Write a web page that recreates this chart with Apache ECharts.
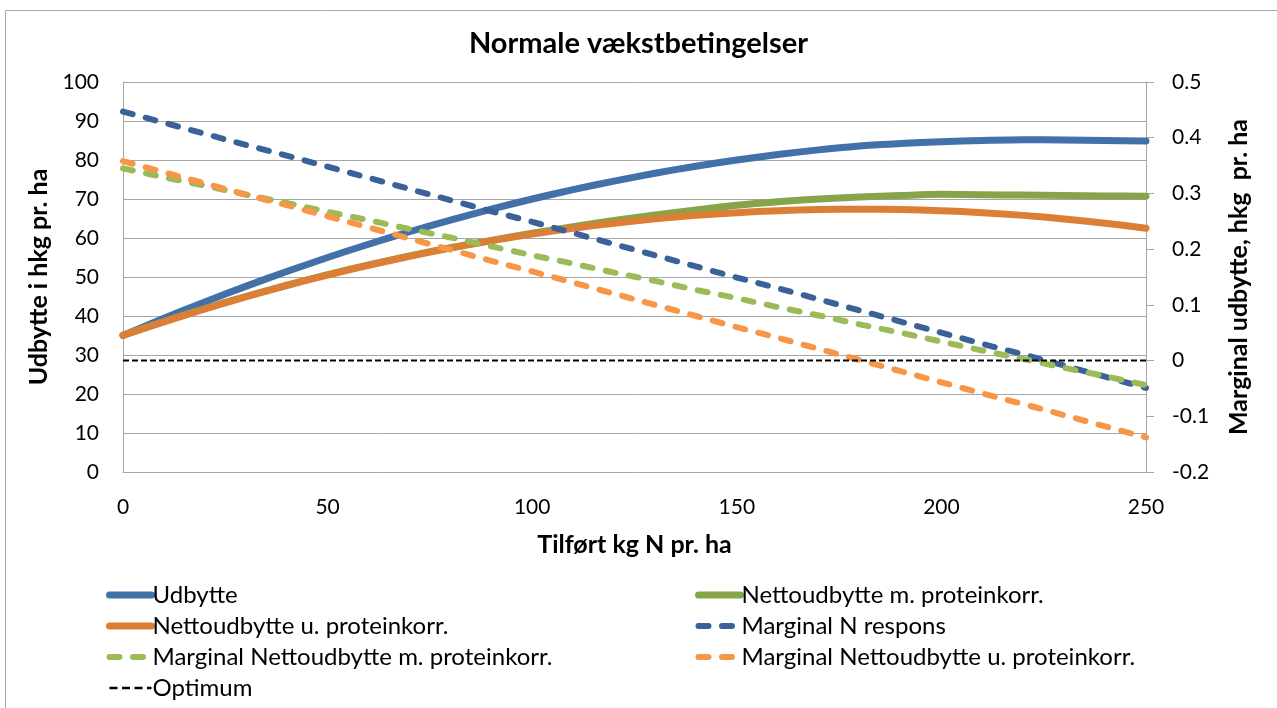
<!DOCTYPE html>
<html>
<head>
<meta charset="utf-8">
<script src="https://cdn.jsdelivr.net/npm/echarts@6/dist/echarts.min.js"></script>
<style>
html,body{margin:0;padding:0;background:#fff;}
#chart{width:1277px;height:708px;}
</style>
</head>
<body>
<div id="chart"></div>
<script>
const titleText = "Normale vækstbetingelser";
const xName = "Tilført kg N pr. ha";
const yLeftName = "Udbytte i hkg pr. ha";
const yRightName = "Marginal udbytte, hkg  pr. ha";

const nValues = [0,10,20,30,40,50,60,70,80,90,100,110,120,130,140,150,160,170,180,190,200,210,220,230,240,250];

const udbytte = [35,39.4,43.6,47.6,51.4,55,58.4,61.6,64.6,67.4,70,72.4,74.6,76.6,78.4,80,81.4,82.6,83.6,84.2,84.7,85.0,85.2,85.1,85.0,84.9];
const nettoM = [35.1,38.6,41.9,45.0,47.9,50.6,53.1,55.4,57.5,59.4,61.2,62.9,64.5,65.9,67.2,68.4,69.3,70.0,70.5,70.9,71.2,71.1,71.0,70.9,70.8,70.7];
const nettoU = [35,38.5,41.8,44.9,47.8,50.5,53,55.3,57.4,59.3,61,62.5,63.8,64.9,65.8,66.5,67,67.3,67.4,67.3,67,66.5,65.8,64.9,63.8,62.5];
const margN = [0.447,0.427,0.407,0.387,0.368,0.348,0.328,0.308,0.288,0.268,0.249,0.229,0.209,0.189,0.169,0.149,0.130,0.110,0.090,0.070,0.050,0.030,0.011,-0.009,-0.029,-0.049];
const margM = [0.345,0.329,0.314,0.298,0.283,0.267,0.252,0.236,0.221,0.205,0.189,0.174,0.158,0.143,0.127,0.112,0.096,0.081,0.065,0.050,0.034,0.018,0.003,-0.013,-0.028,-0.044];
const margU = [0.358,0.338,0.318,0.298,0.279,0.259,0.239,0.219,0.199,0.179,0.160,0.140,0.120,0.100,0.080,0.060,0.041,0.021,0.001,-0.019,-0.039,-0.059,-0.078,-0.098,-0.118,-0.138];
const optimumX = [0,250];
const optimumY = [0,0];

const seriesNames = ["Udbytte","Nettoudbytte m. proteinkorr.","Nettoudbytte u. proteinkorr.","Marginal N respons","Marginal Nettoudbytte m. proteinkorr.","Marginal Nettoudbytte u. proteinkorr.","Optimum"];

const leftTicks = {min:0,max:100,interval:10};
const rightTicks = {min:-0.2,max:0.5,interval:0.1};
const xTicks = {min:0,max:250,interval:50};

function zip(xs, ys){ return xs.map((x,i)=>[x, ys[i]]); }

const FONT = "Lato";
const SOLID_W = 7, DASH_W = 6, DASH = [10, 13.5];
const chart = echarts.init(document.getElementById('chart'), null, {renderer:'canvas'});

function solid(name, data, color){
  return {name, type:'line', yAxisIndex:0, data, symbol:'none', smooth:0.3,
    lineStyle:{color, width:SOLID_W, cap:'round', join:'round'}, itemStyle:{color}};
}
function dashed(name, data, color){
  return {name, type:'line', yAxisIndex:1, data, symbol:'none', smooth:false,
    lineStyle:{color, width:DASH_W, type:DASH, cap:'round'}, itemStyle:{color}};
}
function legItem(i, w, dash){
  const ls = {width:w};
  if (dash) ls.type = dash;
  return {name:seriesNames[i], itemStyle:{opacity:0}, lineStyle:ls};
}
const legendText = {fontFamily:FONT, fontSize:24, color:'#000', lineHeight:24, padding:[0,0,0,-4]};

chart.setOption({
  animation:false,
  backgroundColor:'#ffffff',
  textStyle:{fontFamily:FONT},
  title:{text:titleText, left:'center', top:24,
    textStyle:{fontFamily:FONT, fontSize:29, fontWeight:'bold', color:'#000'}},
  grid:{left:123, right:131, top:82, bottom:236, containLabel:false},
  graphic:[{type:'rect', shape:{x:5.5,y:10.5,width:1400,height:900}, style:{fill:'none', stroke:'#a6a6a6', lineWidth:1}, silent:true}],
  legend:[
    {left:106, top:583, padding:0, orient:'vertical', itemWidth:42, itemHeight:14, itemGap:7,
     data:[legItem(0,SOLID_W),legItem(2,SOLID_W),legItem(4,DASH_W),legItem(6,2.5,[8,4.5])],
     textStyle:legendText},
    {left:695, top:583, padding:0, orient:'vertical', itemWidth:42, itemHeight:14, itemGap:7,
     data:[legItem(1,SOLID_W),legItem(3,DASH_W),legItem(5,DASH_W)],
     textStyle:legendText}
  ],
  xAxis:{type:'value', min:xTicks.min, max:xTicks.max, interval:xTicks.interval,
    name:xName, nameLocation:'middle', nameGap:60,
    nameTextStyle:{fontFamily:FONT, fontSize:25, fontWeight:'bold', color:'#000'},
    axisLine:{show:true, lineStyle:{color:'#a6a6a6'}},
    axisTick:{show:false},
    axisLabel:{fontFamily:FONT, fontSize:21, color:'#000', margin:25},
    splitLine:{show:false}},
  yAxis:[
    {type:'value', min:leftTicks.min, max:leftTicks.max, interval:leftTicks.interval,
     name:yLeftName, nameLocation:'middle', nameGap:69, nameRotate:90,
     nameTextStyle:{fontFamily:FONT, fontSize:25, fontWeight:'bold', color:'#000'},
     axisLine:{show:true, lineStyle:{color:'#a6a6a6'}},
     axisTick:{show:false},
     axisLabel:{fontFamily:FONT, fontSize:21, color:'#000', margin:24},
     splitLine:{show:true, lineStyle:{color:'#a6a6a6', width:1}}},
    {type:'value', position:'right', min:rightTicks.min, max:rightTicks.max, interval:rightTicks.interval,
     name:yRightName, nameLocation:'middle', nameGap:80, nameRotate:90,
     nameTextStyle:{fontFamily:FONT, fontSize:25, fontWeight:'bold', color:'#000'},
     axisLine:{show:true, lineStyle:{color:'#a6a6a6'}},
     axisTick:{show:true, inside:false, length:8, lineStyle:{color:'#a6a6a6'}},
     axisLabel:{fontFamily:FONT, fontSize:21, color:'#000', margin:26,
       formatter:v=>String(Math.round(v*10)/10)},
     splitLine:{show:false}}
  ],
  series:[
    solid(seriesNames[0], zip(nValues, udbytte), '#4270A8'),
    solid(seriesNames[1], zip(nValues, nettoM), '#86A44A'),
    solid(seriesNames[2], zip(nValues, nettoU), '#DC7F36'),
    dashed(seriesNames[3], zip(nValues, margN), '#3A6298'),
    dashed(seriesNames[4], zip(nValues, margM), '#9BBB59'),
    dashed(seriesNames[5], zip(nValues, margU), '#F79646'),
    {name:seriesNames[6], type:'line', yAxisIndex:1, data:zip(optimumX, optimumY), symbol:'none',
     lineStyle:{color:'#000', width:2, type:[6,3]}, itemStyle:{color:'#000'}}
  ]
});
</script>
</body>
</html>
